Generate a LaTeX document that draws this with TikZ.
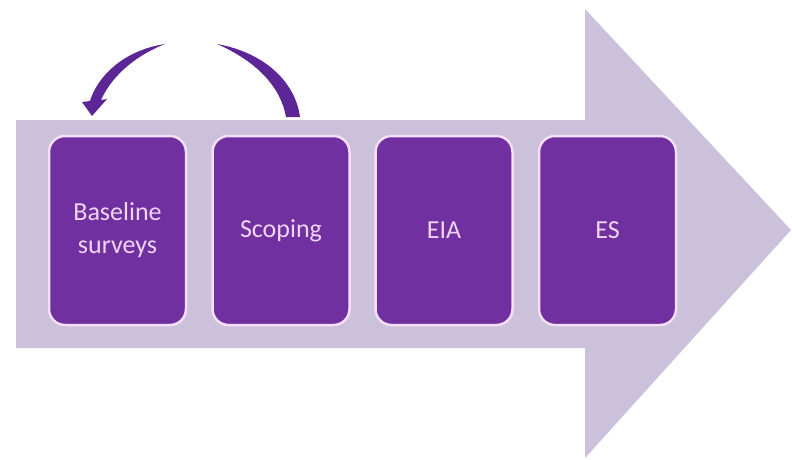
\documentclass[tikz,border=0pt]{standalone}
\usepackage{fontspec}
\setmainfont{Carlito}
\usetikzlibrary{calc}
\definecolor{lav}{RGB}{204,193,218}
\definecolor{plum}{RGB}{112,48,160}
\definecolor{loopc}{RGB}{92,38,150}
\definecolor{pinkline}{RGB}{244,222,248}
\definecolor{pinktext}{RGB}{240,212,246}

\begin{document}
\begin{tikzpicture}[x=1pt, y=-1pt, line join = round]
\tikzstyle{stage}=[fill=plum, draw=pinkline, line width=2.5pt, rounded corners=16pt, minimum width=137pt, minimum height=189pt, align=center, text=pinktext, font=\fontsize{26}{33}\selectfont]
\tikzstyle{loop}=[fill=loopc]
\useasboundingbox (0,0) rectangle (792,459);

% big arrow
\fill[lav] (16,120) -- (585,120) -- (585,9) -- (791,230) -- (585,458) -- (585,348) -- (16,348) -- cycle;

\node[stage] (base)  at (117.5,230.5) {Baseline\\surveys};
\node[stage] (scope) at (281,230.5)   {Scoping};
\node[stage] (eia)   at (444,230.5)   {EIA};
\node[stage] (es)    at (607.5,230.5) {ES};

% loop back from scoping to baseline
\fill[loop] (217,44) .. controls (262,52) and (295,80) .. (300,117) -- (286,117) .. controls (281,88) and (258,62) .. (217,44) -- cycle;
\fill[loop] (165,44) .. controls (125,50) and (98,75) .. (90,101) -- (82,102) -- (92,116) -- (107,99) -- (101,100) .. controls (110,80) and (130,58) .. (165,44) -- cycle;
\end{tikzpicture}
\end{document}
